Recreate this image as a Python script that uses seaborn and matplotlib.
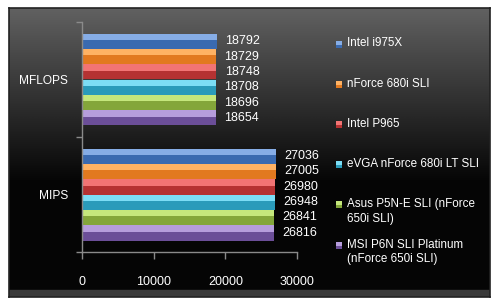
import textwrap
import numpy as np
import pandas as pd
import matplotlib
matplotlib.use("Agg")
import matplotlib.pyplot as plt
from matplotlib.patches import Rectangle
import seaborn as sns

# ---- data ----
metrics = ["MFLOPS", "MIPS"]
boards = ["Intel i975X", "nForce 680i SLI", "Intel P965",
          "eVGA nForce 680i LT SLI", "Asus P5N-E SLI (nForce 650i SLI)",
          "MSI P6N SLI Platinum (nForce 650i SLI)"]
mflops = [18792, 18729, 18748, 18708, 18696, 18654]
mips = [27036, 27005, 26980, 26948, 26841, 26816]
x_ticks = [0, 10000, 20000, 30000]

# ---- styles ----
dark_cols = ["#3A6AB0", "#E2791F", "#B53232", "#2A9BBA", "#84A63A", "#6B4E98"]
light_cols = ["#86ADE6", "#FFB263", "#F27474", "#7CDDF5", "#C5E77C", "#B69DDC"]
FS = 9
FS_LEG = 8.4

df = pd.DataFrame({
    "metric": np.repeat(metrics, len(boards)),
    "board": boards * len(metrics),
    "value": mflops + mips,
})

sns.set_theme(style="white")
plt.rcParams["font.family"] = ["Liberation Sans", "DejaVu Sans"]

W, H = 502, 307
fig = plt.figure(figsize=(W / 100, H / 100), dpi=100)
fig.patch.set_facecolor("white")

# background panel with gradient
bg = fig.add_axes([9 / W, 1 - 297 / H, 481 / W, 289 / H], zorder=0)
grad = np.linspace(0, 1, 256)
cvals = np.clip(1 - grad / 0.6, 0, 1) * 0.36 + 0.02
img = np.repeat(cvals[:, None], 2, axis=1)
img = np.dstack([img, img, img])
bg.imshow(img, aspect="auto", extent=[0, 1, 0, 1], origin="upper")
bg.add_patch(Rectangle((0, 0), 1, 0.025, color="#3a3a3a", transform=bg.transAxes))
bg.set_xlim(0, 1); bg.set_ylim(0, 1)
bg.set_xticks([]); bg.set_yticks([])
for s in bg.spines.values():
    s.set_color("#222222"); s.set_linewidth(1.2)

ax = fig.add_axes([82 / W, 1 - 252 / H, 215 / W, 230 / H], zorder=2)
ax.set_facecolor("none")

sns.barplot(data=df, x="value", y="metric", hue="board", order=metrics,
            hue_order=boards, palette=dark_cols, orient="h", width=0.8,
            saturation=1, legend=False, ax=ax, edgecolor="none")

# bevel highlight derived from each bar's geometry
for ci, cont in enumerate(ax.containers):
    for p in cont.patches:
        x0, y0 = p.get_x(), p.get_y()
        w, h = p.get_width(), p.get_height()
        ax.add_patch(Rectangle((x0, y0), w, h * 0.42, color=light_cols[ci],
                               linewidth=0, zorder=p.get_zorder() + 0.1))
    ax.bar_label(cont, padding=6, color="white", fontsize=FS)

ax.set_xlim(0, 30000)
ax.set_ylim(1.5, -0.5)
ax.set_xticks(x_ticks)
ax.set_xticklabels([str(t) for t in x_ticks])
ax.set_yticks([0, 1])
ax.set_yticklabels(metrics)
ax.set_yticks([-0.5, 0.5, 1.5], minor=True)
ax.set_xlabel(""); ax.set_ylabel("")
ax.tick_params(axis="x", colors="#8a8a8a", labelcolor="white", length=5,
               width=1, direction="out", pad=12, labelsize=FS, bottom=True)
ax.tick_params(axis="y", which="major", length=0, pad=10, labelcolor="white",
               labelsize=8.6)
ax.tick_params(axis="y", which="minor", length=4, width=1, colors="#8a8a8a",
               direction="out", left=True)
for side in ["top", "right"]:
    ax.spines[side].set_visible(False)
for side in ["left", "bottom"]:
    ax.spines[side].set_color("#8a8a8a")
    ax.spines[side].set_linewidth(1)

# legend, built from the series list
for i, name in enumerate(boards):
    ypx = 44 + 40.2 * i
    fig.patches.append(Rectangle((336 / W, 1 - (ypx + 3.5) / H), 6 / W, 7 / H,
                                 facecolor=dark_cols[i], edgecolor="none",
                                 transform=fig.transFigure, figure=fig))
    fig.patches.append(Rectangle((336 / W, 1 - (ypx + 0.5) / H), 6 / W, 4 / H,
                                 facecolor=light_cols[i], edgecolor="none",
                                 transform=fig.transFigure, figure=fig))
    fig.text(347 / W, 1 - (ypx - 6.5) / H, textwrap.fill(name, 23),
             color="white", fontsize=FS_LEG, va="top", ha="left",
             linespacing=1.3)

fig.savefig("out.png", dpi=100, facecolor="white")
